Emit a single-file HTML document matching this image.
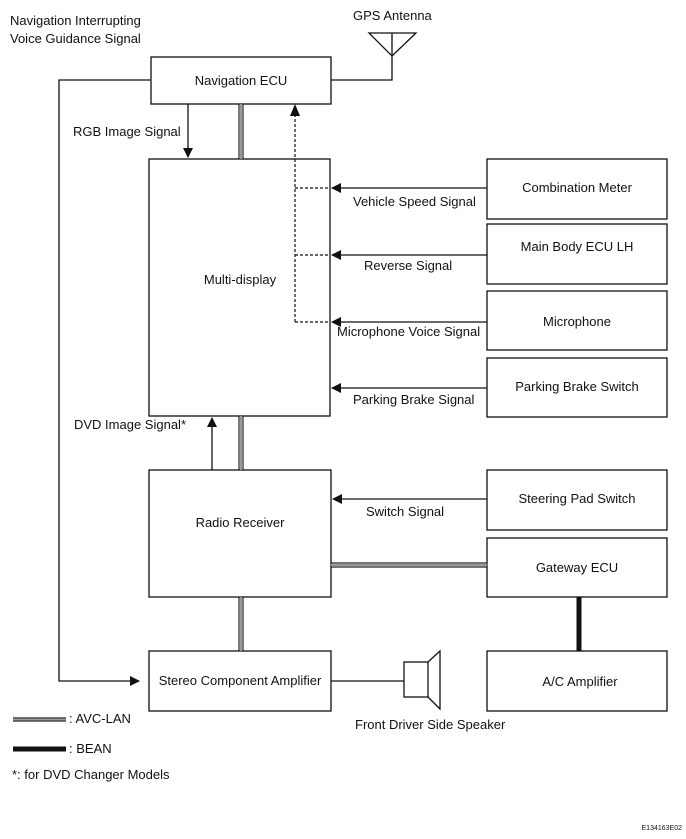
<!DOCTYPE html>
<html><head><meta charset="utf-8"><style>
html,body{margin:0;padding:0;background:#fff;}
svg{display:block;font-family:"Liberation Sans",sans-serif;}
text{font-size:13px;fill:#111;}
</style></head><body>
<svg width="686" height="839" viewBox="0 0 686 839" xmlns="http://www.w3.org/2000/svg">
<defs>
<marker id="ah" markerWidth="10" markerHeight="10" refX="9" refY="5" orient="auto" markerUnits="userSpaceOnUse"><path d="M0,0 L10,5 L0,10 Z" fill="#111"/></marker>
</defs>
<g fill="none" stroke="#111" stroke-width="1.3">
<rect x="151" y="57" width="180" height="47"/>
<rect x="149" y="159" width="181" height="257"/>
<rect x="487" y="159" width="180" height="60"/>
<rect x="487" y="224" width="180" height="60"/>
<rect x="487" y="291" width="180" height="59"/>
<rect x="487" y="358" width="180" height="59"/>
<rect x="149" y="470" width="182" height="127"/>
<rect x="487" y="470" width="180" height="60"/>
<rect x="487" y="538" width="180" height="59"/>
<rect x="149" y="651" width="182" height="60"/>
<rect x="487" y="651" width="180" height="60"/>
<path d="M369,33 L416,33 L392,56 Z M392,33 L392,80 L331,80"/>
<path d="M151,80 L59,80 L59,681 L139,681" marker-end="url(#ah)"/>
<path d="M188,104 L188,157" marker-end="url(#ah)"/>
<path d="M212,470 L212,418" marker-end="url(#ah)"/>
<path d="M487,188 L332,188" marker-end="url(#ah)"/>
<path d="M487,255 L332,255" marker-end="url(#ah)"/>
<path d="M487,322 L332,322" marker-end="url(#ah)"/>
<path d="M487,388 L332,388" marker-end="url(#ah)"/>
<path d="M487,499 L333,499" marker-end="url(#ah)"/>
<path d="M331,681 L404,681"/>
<rect x="404" y="662" width="24" height="35"/>
<path d="M428,662 L440,651 L440,709 L428,697"/>
</g>
<g fill="none" stroke="#111" stroke-width="1.2" stroke-dasharray="3,2">
<path d="M295,322 L295,116 M295,188 L330,188 M295,255 L330,255 M295,322 L330,322"/>
</g>
<path d="M295,104 L290,116 L300,116 Z" fill="#111"/>
<g stroke="#222" stroke-width="1.2">
<path d="M239,104 V159 M243,104 V159"/>
<path d="M239,416 V470 M243,416 V470"/>
<path d="M239,597 V651 M243,597 V651"/>
<path d="M331,563 H487 M331,567 H487"/>
<path d="M13,718 H66 M13,721 H66"/>
</g>
<g stroke="#999" stroke-width="2"><path d="M241,104 V159 M241,416 V470 M241,597 V651 M331,565 H487 M13,719.5 H66"/></g>
<path d="M579,597 V651" stroke="#111" stroke-width="5"/>
<path d="M13,749 H66" stroke="#111" stroke-width="5"/>
<text x="10" y="25">Navigation Interrupting</text>
<text x="10" y="43">Voice Guidance Signal</text>
<text x="353" y="20">GPS Antenna</text>
<text x="241" y="85" text-anchor="middle">Navigation ECU</text>
<text x="73" y="136">RGB Image Signal</text>
<text x="240" y="284" text-anchor="middle">Multi-display</text>
<text x="577" y="192" text-anchor="middle">Combination Meter</text>
<text x="577" y="251" text-anchor="middle">Main Body ECU LH</text>
<text x="577" y="326" text-anchor="middle">Microphone</text>
<text x="577" y="391" text-anchor="middle">Parking Brake Switch</text>
<text x="353" y="206">Vehicle Speed Signal</text>
<text x="364" y="270">Reverse Signal</text>
<text x="337" y="336">Microphone Voice Signal</text>
<text x="353" y="404">Parking Brake Signal</text>
<text x="74" y="429">DVD Image Signal*</text>
<text x="240" y="527" text-anchor="middle">Radio Receiver</text>
<text x="577" y="503" text-anchor="middle">Steering Pad Switch</text>
<text x="366" y="516">Switch Signal</text>
<text x="577" y="572" text-anchor="middle">Gateway ECU</text>
<text x="240" y="685" text-anchor="middle">Stereo Component Amplifier</text>
<text x="580" y="686" text-anchor="middle">A/C Amplifier</text>
<text x="355" y="729">Front Driver Side Speaker</text>
<text x="69" y="723">: AVC-LAN</text>
<text x="69" y="753">: BEAN</text>
<text x="12" y="779">*: for DVD Changer Models</text>
<text x="682" y="830" text-anchor="end" style="font-size:7px">E134163E02</text>
</svg>
</body></html>
